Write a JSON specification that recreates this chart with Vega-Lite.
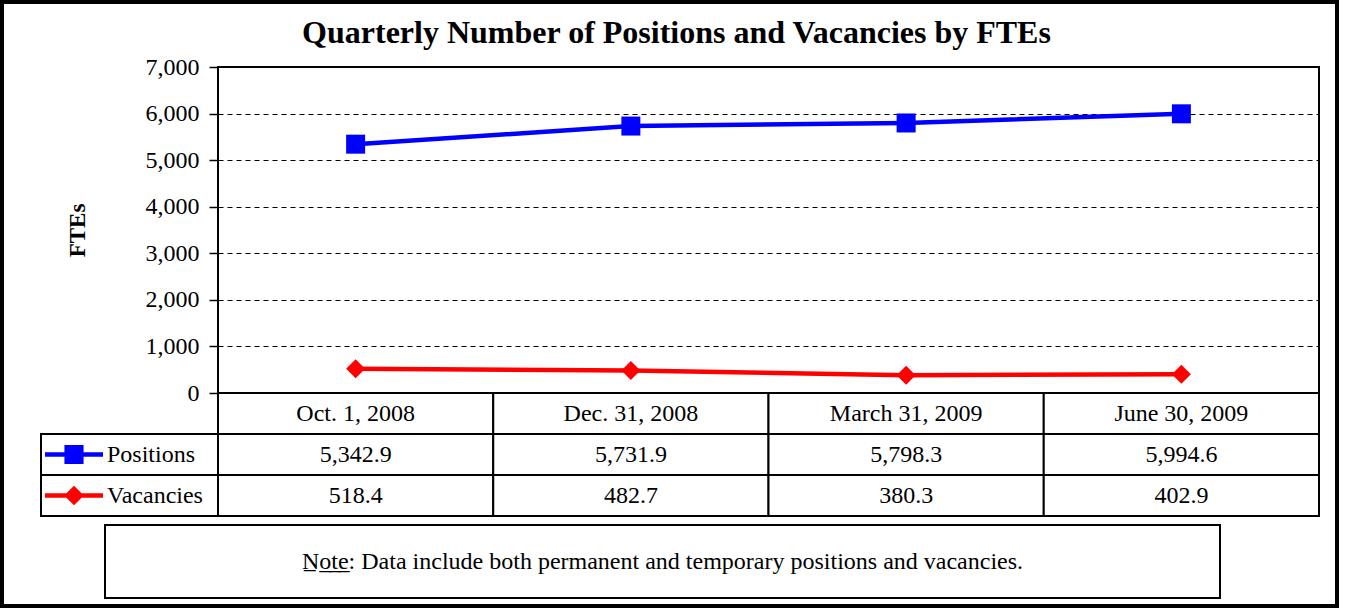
{
  "$schema": "https://vega.github.io/schema/vega-lite/v6.json",
  "padding": {"left": 2, "top": 2, "right": 5, "bottom": 2},
  "background": "white",
  "title": {
    "text": "Quarterly Number of Positions and Vacancies by FTEs",
    "font": "Liberation Serif",
    "fontSize": 32,
    "fontWeight": "bold",
    "color": "black",
    "anchor": "middle",
    "frame": "bounds",
    "dx": 6,
    "offset": -48
  },
  "datasets": {
    "vals": [
      {"date": "Oct. 1, 2008", "series": "Positions", "value": 5342.9},
      {"date": "Dec. 31, 2008", "series": "Positions", "value": 5731.9},
      {"date": "March 31, 2009", "series": "Positions", "value": 5798.3},
      {"date": "June 30, 2009", "series": "Positions", "value": 5994.6},
      {"date": "Oct. 1, 2008", "series": "Vacancies", "value": 518.4},
      {"date": "Dec. 31, 2008", "series": "Vacancies", "value": 482.7},
      {"date": "March 31, 2009", "series": "Vacancies", "value": 380.3},
      {"date": "June 30, 2009", "series": "Vacancies", "value": 402.9}
    ],
    "dates": [
      {"date": "Oct. 1, 2008", "series": "Header"},
      {"date": "Dec. 31, 2008", "series": "Header"},
      {"date": "March 31, 2009", "series": "Header"},
      {"date": "June 30, 2009", "series": "Header"}
    ],
    "series": [
      {"series": "Positions"},
      {"series": "Vacancies"}
    ],
    "note": [
      {"note": "N̲o̲t̲e̲: Data include both permanent and temporary positions and vacancies."}
    ]
  },
  "spacing": 6,
  "resolve": {"scale": {"shape": "independent"}},
  "vconcat": [
    {
      "columns": 2,
      "bounds": "flush",
      "align": "each",
      "spacing": 0,
      "resolve": {"scale": {"shape": "independent"}},
      "concat": [
        {
          "width": 177,
          "height": 326,
          "view": {"stroke": null},
          "data": {"values": [{}]},
          "mark": {"type": "text"},
          "encoding": {"text": {"value": ""}}
        },
        {
          "width": 1101,
          "height": 326,
          "data": {"name": "vals"},
          "encoding": {
            "x": {
              "field": "date",
              "type": "ordinal",
              "sort": ["Oct. 1, 2008", "Dec. 31, 2008", "March 31, 2009", "June 30, 2009"],
              "scale": {"type": "point", "padding": 0.5},
              "axis": null
            },
            "y": {
              "field": "value",
              "type": "quantitative",
              "scale": {"domain": [0, 7000], "nice": false},
              "axis": {
                "values": [0, 1000, 2000, 3000, 4000, 5000, 6000, 7000],
                "format": ",.0f",
                "grid": true,
                "gridColor": "black",
                "gridDash": [5, 4],
                "gridWidth": 1,
                "gridOpacity": 1,
                "domain": false,
                "tickColor": "black",
                "tickSize": 9,
                "tickWidth": 1.5,
                "labelFont": "Liberation Serif",
                "labelFontSize": 24,
                "labelColor": "black",
                "labelPadding": 10,
                "title": "FTEs",
                "titleFont": "Liberation Serif",
                "titleFontSize": 23,
                "titleFontWeight": "bold",
                "titleColor": "black",
                "titlePadding": 56
              }
            },
            "color": {
              "field": "series",
              "type": "nominal",
              "scale": {"domain": ["Positions", "Vacancies"], "range": ["#0000FF", "#FF0000"]},
              "legend": null
            }
          },
          "layer": [
            {"mark": {"type": "line", "strokeWidth": 4.5}},
            {
              "mark": {"type": "point", "filled": true, "opacity": 1, "size": 361},
              "encoding": {
                "shape": {
                  "field": "series",
                  "type": "nominal",
                  "scale": {"domain": ["Positions", "Vacancies"], "range": ["square", "diamond"]},
                  "legend": null
                }
              }
            },
            {
              "mark": {"type": "point", "opacity": 0, "filled": true},
              "encoding": {
                "fill": {
                  "field": "value",
                  "type": "quantitative",
                  "scale": {"range": ["rgba(255,255,255,0)", "rgba(255,255,255,0)"]},
                  "legend": {
                    "orient": "none",
                    "legendX": -39,
                    "legendY": -65,
                    "direction": "vertical",
                    "title": null,
                    "padding": 0,
                    "gradientLength": 604,
                    "gradientThickness": 1335,
                    "gradientStrokeColor": "black",
                    "gradientStrokeWidth": 4,
                    "labelExpr": "''",
                    "labelOffset": 0
                  }
                }
              }
            }
          ]
        },
        {
          "width": 177,
          "height": 123,
          "view": {"stroke": null},
          "data": {"name": "series"},
          "encoding": {
            "y": {
              "field": "series",
              "type": "nominal",
              "scale": {"domain": ["Header", "Positions", "Vacancies"], "paddingInner": 0, "paddingOuter": 0},
              "axis": null
            }
          },
          "layer": [
            {"mark": {"type": "rect", "fill": "white", "stroke": "black", "strokeWidth": 2}},
            {
              "mark": {"type": "point", "filled": true, "opacity": 1, "size": 3364, "xOffset": -55.5},
              "encoding": {
                "shape": {
                  "field": "series",
                  "type": "nominal",
                  "scale": {
                    "domain": ["Positions", "Vacancies"],
                    "range": [
                      "M-1,-0.078H1V0.078H-1Z M-0.33,-0.33H0.33V0.33H-0.33Z",
                      "M-1,-0.078H1V0.078H-1Z M0,-0.34L0.34,0L0,0.34L-0.34,0Z"
                    ]
                  },
                  "legend": null
                },
                "color": {
                  "field": "series",
                  "type": "nominal",
                  "scale": {"domain": ["Positions", "Vacancies"], "range": ["#0000FF", "#FF0000"]},
                  "legend": null
                }
              }
            },
            {
              "mark": {"type": "text", "align": "left", "dx": -22.5, "font": "Liberation Serif", "fontSize": 24, "color": "black"},
              "encoding": {"text": {"field": "series"}}
            }
          ]
        },
        {
          "width": 1101,
          "height": 123,
          "encoding": {
            "x": {
              "field": "date",
              "type": "ordinal",
              "sort": ["Oct. 1, 2008", "Dec. 31, 2008", "March 31, 2009", "June 30, 2009"],
              "scale": {"type": "band", "paddingInner": 0, "paddingOuter": 0},
              "axis": null
            },
            "y": {
              "field": "series",
              "type": "nominal",
              "scale": {"domain": ["Header", "Positions", "Vacancies"], "paddingInner": 0, "paddingOuter": 0},
              "axis": null
            }
          },
          "layer": [
            {
              "data": {"name": "vals"},
              "mark": {"type": "rect", "fill": "white", "stroke": "black", "strokeWidth": 2}
            },
            {
              "data": {"name": "dates"},
              "mark": {"type": "rect", "fill": "white", "stroke": "black", "strokeWidth": 2}
            },
            {
              "data": {"name": "vals"},
              "mark": {"type": "text", "font": "Liberation Serif", "fontSize": 24, "color": "black"},
              "encoding": {"text": {"field": "value", "type": "quantitative", "format": ",.1f"}}
            },
            {
              "data": {"name": "dates"},
              "mark": {"type": "text", "font": "Liberation Serif", "fontSize": 24, "color": "black"},
              "encoding": {"text": {"field": "date"}}
            }
          ]
        }
      ]
    },
    {
      "bounds": "flush",
      "spacing": 0,
      "hconcat": [
        {
          "width": 64,
          "height": 73,
          "view": {"stroke": null},
          "data": {"values": [{}]},
          "mark": {"type": "text"},
          "encoding": {"text": {"value": ""}}
        },
        {
          "width": 1115,
          "height": 73,
          "data": {"name": "note"},
          "mark": {"type": "text", "font": "Liberation Serif", "fontSize": 24, "color": "black"},
          "encoding": {
            "x": {"field": "note", "type": "nominal", "axis": null},
            "y": {"field": "note", "type": "nominal", "axis": null},
            "text": {"field": "note"}
          }
        }
      ]
    }
  ],
  "config": {
    "view": {"stroke": "black", "strokeWidth": 2},
    "font": "Liberation Serif",
    "legend": {"gradientVerticalMaxLength": 2000}
  }
}
